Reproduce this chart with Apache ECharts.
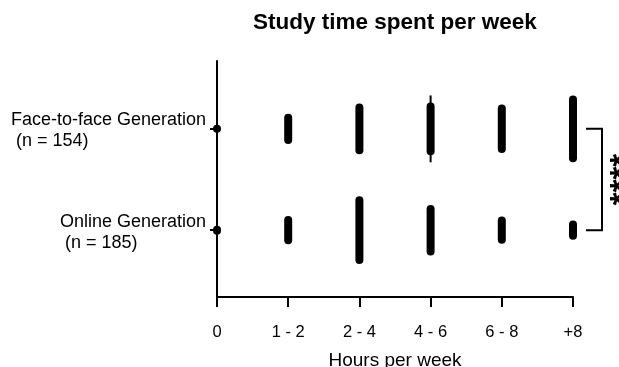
<!DOCTYPE html>
<html>
<head>
<meta charset="utf-8">
<script src="https://cdn.jsdelivr.net/npm/echarts@6/dist/echarts.min.js"></script>
<style>html,body{margin:0;padding:0;background:#fff}#c{width:619px;height:367px}</style>
</head>
<body>
<div id="c"></div>
<script>
const categories = ['0', '1 - 2', '2 - 4', '4 - 6', '6 - 8', '+8'];
const groupNames = ['Online Generation', 'Face-to-face Generation'];
const groupN = ['(n = 185)', '(n = 154)'];
const groupRows = [1, 2];
const faceToFace = [0, 22, 42, 44, 40, 58];
const online = [1, 20, 59, 42, 19, 11];
const faceWhisker = [null, null, null, 66, null, null];
const significance = '****';

const FONT = 'Liberation Sans, Arial, Helvetica, sans-serif';
const barData = [];
faceToFace.forEach((v, i) => barData.push([i, 2, v]));
online.forEach((v, i) => barData.push([i, 1, v]));
const whiskerData = [];
faceWhisker.forEach((v, i) => { if (v != null) whiskerData.push([i, 2, v]); });

const chart = echarts.init(document.getElementById('c'));
chart.setOption({
  animation: false,
  title: {
    text: 'Study time spent per week',
    left: 248, top: 6,
    textStyle: { fontFamily: FONT, fontSize: 22.5, fontWeight: 'bold', color: '#000' }
  },
  grid: { left: 217, right: 46, top: 61, bottom: 70, containLabel: false, outerBoundsMode: 'none' },
  xAxis: {
    type: 'category', data: categories, boundaryGap: false,
    name: 'Hours per week', nameLocation: 'middle', nameGap: 54,
    nameTextStyle: { fontFamily: FONT, fontSize: 19, color: '#000' },
    axisLine: { lineStyle: { color: '#000', width: 2 } },
    axisTick: { show: true, length: 10, alignWithLabel: true, lineStyle: { color: '#000', width: 2 } },
    axisLabel: { fontFamily: FONT, fontSize: 16.5, color: '#000', margin: 27, interval: 0 },
    splitLine: { show: false }
  },
  yAxis: {
    type: 'value', min: 0.34, max: 2.67,
    axisLine: { show: true, lineStyle: { color: '#000', width: 2 } },
    axisTick: { show: true, length: 7, customValues: groupRows, lineStyle: { color: '#000', width: 2 } },
    axisLabel: {
      customValues: groupRows, margin: 11, color: '#000',
      fontFamily: FONT, fontSize: 18, lineHeight: 21, align: 'right',
      padding: [4, 0, 0, 0],
      formatter: function (v) {
        const i = groupRows.indexOf(Math.round(v));
        return '{a|' + groupNames[i] + '}\n{a| ' + groupN[i] + '}';
      },
      rich: { a: { align: 'left', fontFamily: FONT, fontSize: 18, lineHeight: 21, color: '#000' } }
    },
    splitLine: { show: false }
  },
  series: [
    {
      type: 'custom', clip: false, z: 5,
      data: barData,
      renderItem: function (params, api) {
        const c = api.coord([api.value(0), api.value(1)]);
        const len = api.size([0, api.value(2) / 100])[1];
        const w = 8;
        return {
          type: 'rect',
          shape: { x: c[0] - w / 2, y: c[1] - len / 2 - w / 2, width: w, height: len + w, r: w / 2 },
          style: { fill: '#000' }
        };
      }
    },
    {
      type: 'custom', clip: false, z: 4,
      data: whiskerData,
      renderItem: function (params, api) {
        const c = api.coord([api.value(0), api.value(1)]);
        const len = api.size([0, api.value(2) / 100])[1];
        return {
          type: 'line',
          shape: { x1: c[0], y1: c[1] - len / 2, x2: c[0], y2: c[1] + len / 2 },
          style: { stroke: '#000', lineWidth: 2 }
        };
      }
    },
    {
      type: 'custom', clip: false, z: 5,
      data: [[categories.length - 1, 2, 1]],
      renderItem: function (params, api) {
        const top = api.coord([api.value(0), api.value(1)]);
        const bot = api.coord([api.value(0), api.value(2)]);
        const x1 = top[0] + 13, x2 = top[0] + 29;
        return {
          type: 'group',
          children: [
            {
              type: 'polyline',
              shape: { points: [[x1, top[1]], [x2, top[1]], [x2, bot[1]], [x1, bot[1]]] },
              style: { stroke: '#000', lineWidth: 2, fill: null }
            },
            {
              type: 'text',
              x: top[0] + 51, y: (top[1] + bot[1]) / 2,
              rotation: Math.PI / 2,
              style: {
                text: significance, fontFamily: FONT, fontSize: 33, fontWeight: 'bold',
                fill: '#000', align: 'center', verticalAlign: 'middle'
              }
            }
          ]
        };
      }
    }
  ]
});
</script>
</body>
</html>
